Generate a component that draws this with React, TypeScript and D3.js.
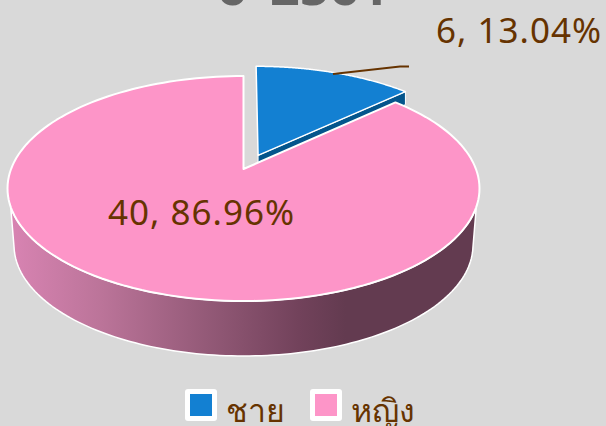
import React from "react";
import * as d3 from "d3";

const categories = ["ชาย", "หญิง"];
const values = [6, 40];
const topColors = ["#1380d2", "#fd95c8"];
const blueSideColor = "#04558c";
const titleLeft = "6";
const titleRight = "2561";

const W = 606, H = 426;
const CX = 243.5, CY = 188.5, RX = 236, RY = 112.5, A = 0.173;
const EXPLODE = 0.15;
const DEPTH_BLUE = 13;
const BOT_CY = 245, BOT_RX = 229.5, BOT_RY = 111;

// disk (x right, y up) -> perspective screen position
function project(x: number, y: number): [number, number] {
  const w = 1 + A * y;
  const px = (x * Math.sqrt(1 - A * A)) / w;
  const py = (y + A) / w;
  return [CX + px * RX, CY - py * RY];
}

function slicePoints(a0: number, a1: number, off: number): [number, number][] {
  const mid = (a0 + a1) / 2;
  const ox = Math.sin(mid) * off, oy = Math.cos(mid) * off;
  const pts: [number, number][] = [project(ox, oy)];
  const n = 160;
  d3.range(n + 1).forEach((i) => {
    const t = a0 + ((a1 - a0) * i) / n;
    pts.push(project(Math.sin(t) + ox, Math.cos(t) + oy));
  });
  return pts;
}

const line = d3.line<[number, number]>().curve(d3.curveLinear);

export default function App() {
  const total = d3.sum(values);
  const fmt = (v: number) => `${v}, ${((v / total) * 100).toFixed(2)}%`;
  const arcs = d3.pie<number>().sort(null)(values);
  const blue = slicePoints(arcs[0].startAngle, arcs[0].endAngle, EXPLODE);
  const pink = slicePoints(arcs[1].startAngle, arcs[1].endAngle, 0);

  const yStart = 207;
  const yEnd = 247;
  const tTop = Math.asin((yStart - CY) / RY);
  const tBot = Math.asin((yEnd - BOT_CY) / BOT_RY);
  const side: [number, number][] = [];
  d3.range(121).forEach((i) => {
    const t = tTop + ((Math.PI - 2 * tTop) * i) / 120;
    side.push([CX + RX * Math.cos(t), CY + RY * Math.sin(t)]);
  });
  d3.range(121).forEach((i) => {
    const t = Math.PI - tBot - ((Math.PI - 2 * tBot) * i) / 120;
    side.push([CX + BOT_RX * Math.cos(t), BOT_CY + BOT_RY * Math.sin(t)]);
  });

  const apex = blue[0];
  const rimEnd = blue[blue.length - 1];
  const blueSide: [number, number][] = [
    apex,
    rimEnd,
    [rimEnd[0], rimEnd[1] + DEPTH_BLUE],
    [apex[0], apex[1] + DEPTH_BLUE],
  ];

  const font = "'Noto Sans', 'DejaVu Sans', sans-serif";
  const legend = [
    { box: 185, text: 226 },
    { box: 310, text: 351 },
  ];

  return (
    <svg
      width={W}
      height={H}
      style={{ position: "fixed", left: 0, top: 0, background: "#d9d9d9" }}
    >
      <defs>
        <linearGradient id="sideGrad" gradientUnits="userSpaceOnUse" x1={8} x2={477} y1={0} y2={0}>
          <stop offset="0" stopColor="#d984b3" />
          <stop offset="0.2" stopColor="#bb7499" />
          <stop offset="0.42" stopColor="#945a78" />
          <stop offset="0.62" stopColor="#72425b" />
          <stop offset="0.72" stopColor="#633b50" />
          <stop offset="1" stopColor="#633b50" />
        </linearGradient>
      </defs>

      <text y={5} fontFamily="'Noto Sans', sans-serif" fontWeight={700} fontSize={52} fill="#666666">
        <tspan x={217}>{titleLeft}</tspan>
        <tspan x={270}>{titleRight}</tspan>
      </text>

      <g transform="translate(1,1)">
        <path d={line(blueSide) + "Z"} fill={blueSideColor} stroke="#ffffff" strokeWidth={1} />
      </g>
      <path d={line(side) + "Z"} fill="url(#sideGrad)" stroke="#ffffff" strokeWidth={1.5} strokeLinejoin="round" />
      <path d={line(pink) + "Z"} fill={topColors[1]} stroke="#ffffff" strokeWidth={2} strokeLinejoin="round" />
      <g transform="translate(1,1)">
        <path d={line(blue) + "Z"} fill={topColors[0]} stroke="#ffffff" strokeWidth={1.5} strokeLinejoin="round" />
      </g>

      <path d="M333,74 L400,66.5 L409,66.5" fill="none" stroke="#663300" strokeWidth={2} />

      <text x={436} y={43} fontFamily={font} fontSize={35} letterSpacing={1} fill="#663300">{fmt(values[0])}</text>
      <text x={108} y={225} fontFamily={font} fontSize={35} letterSpacing={1} fill="#663300">{fmt(values[1])}</text>

      {categories.map((c, i) => (
        <g key={c}>
          <rect x={legend[i].box} y={389} width={32} height={32} rx={3} fill="#ffffff" />
          <rect x={legend[i].box + 5} y={394} width={22} height={22} fill={topColors[i]} />
          <text x={legend[i].text} y={422} fontFamily={font} fontSize={32} fill="#663300">{c}</text>
        </g>
      ))}
    </svg>
  );
}
